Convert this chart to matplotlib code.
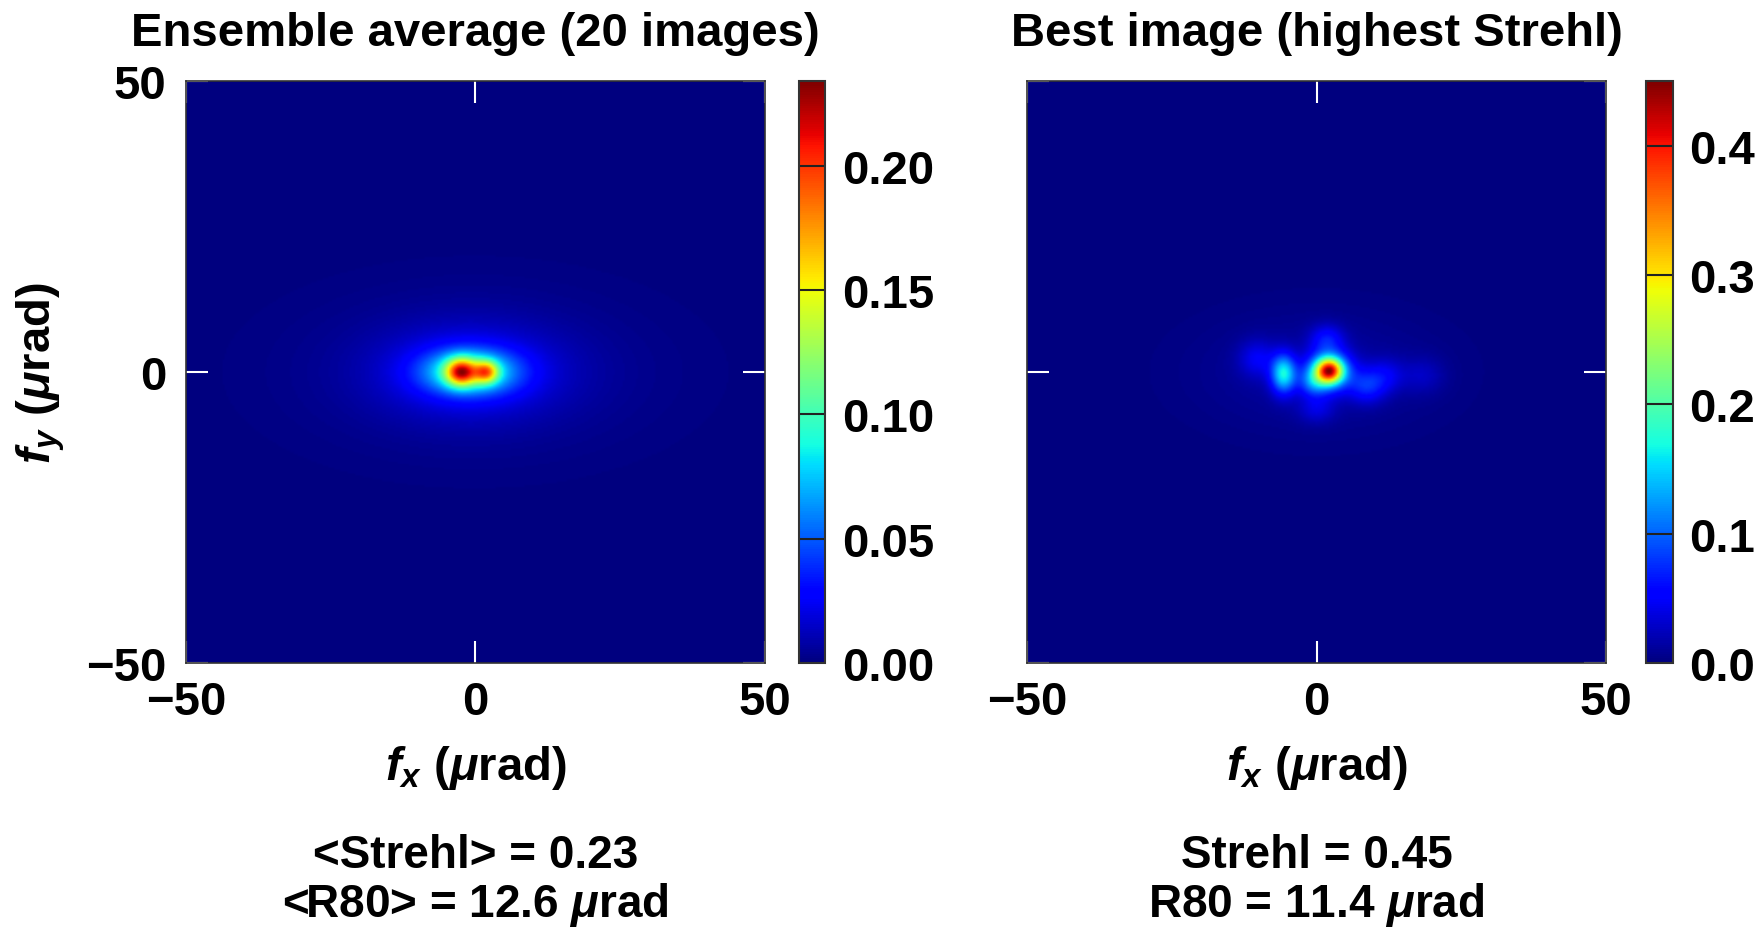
import numpy as np
import matplotlib
matplotlib.use("Agg")
import matplotlib.pyplot as plt

plt.rcParams['font.family'] = ['Liberation Sans', 'DejaVu Sans']
plt.rcParams['font.weight'] = 'bold'
plt.rcParams['axes.labelweight'] = 'bold'
plt.rcParams['axes.titleweight'] = 'bold'
plt.rcParams['mathtext.fontset'] = 'custom'
plt.rcParams['mathtext.rm'] = 'Liberation Sans:bold'
plt.rcParams['mathtext.it'] = 'Liberation Sans:italic:bold'
plt.rcParams['mathtext.bf'] = 'Liberation Sans:bold'

# spot parameters (urad), relative amplitudes
avg_x = [-2.5, 1.9, -1.0, -1.0, 0.0]
avg_y = [0.0, 0.0, 0.0, 0.0, 0.0]
avg_amp = [0.55, 0.42, 0.38, 0.11, 0.03]
avg_sx = [1.8, 1.4, 5.5, 11.0, 22.0]
avg_sy = [1.6, 1.3, 2.6, 5.5, 10.0]
avg_strehl = 0.234

best_x = [2.2, 2.2, -5.7, 1.8, 8.7, -0.6, -10.3, 12.0, 18.4, 0.0, 0.0]
best_y = [0.2, 0.2, -0.3, 5.7, -2.4, -1.8, 2.3, -0.6, -0.6, -6.4, 0.0]
best_amp = [0.6, 0.4, 0.36, 0.12, 0.14, 0.16, 0.09, 0.08, 0.05, 0.07, 0.035]
best_sx = [1.5, 2.6, 1.5, 2.0, 2.2, 1.7, 2.2, 2.2, 2.6, 2.2, 14.0]
best_sy = [1.4, 2.3, 2.3, 1.7, 2.0, 1.7, 2.2, 2.0, 2.2, 1.7, 7.0]
best_strehl = 0.45

ticks = [-50, 0, 50]
avg_cticks = [0.0, 0.05, 0.10, 0.15, 0.20]
best_cticks = [0.0, 0.1, 0.2, 0.3, 0.4]

n = 301
g = np.linspace(-50, 50, n)
X, Y = np.meshgrid(g, g)


def build(xs, ys, amps, sxs, sys_, peak):
    img = np.zeros_like(X)
    for x0, y0, a, sx, sy in zip(xs, ys, amps, sxs, sys_):
        img += a * np.exp(-((X - x0) ** 2 / (2 * sx ** 2) + (Y - y0) ** 2 / (2 * sy ** 2)))
    return img / img.max() * peak


avg_img = build(avg_x, avg_y, avg_amp, avg_sx, avg_sy, avg_strehl)
best_img = build(best_x, best_y, best_amp, best_sx, best_sy, best_strehl)

fig = plt.figure(figsize=(17.65, 9.28), dpi=100)
fs = 34

panels = [
    (avg_img, 0.1054, 0.4527, avg_strehl, avg_cticks, '%.2f',
     'Ensemble average (20 images)',
     ['<Strehl> = 0.23', r'<R80> = 12.6 $\mu$rad'], True),
    (best_img, 0.5819, 0.9326, best_strehl, best_cticks, '%.1f',
     'Best image (highest Strehl)',
     ['Strehl = 0.45', r'R80 = 11.4 $\mu$rad'], False),
]

for img, x0, cx0, vmax, cticks, cfmt, title, notes, ylab in panels:
    ax = fig.add_axes([x0, 0.2845, 0.328, 0.627])
    im = ax.imshow(img, cmap='jet', origin='lower', extent=[-50, 50, -50, 50],
                   vmin=0, vmax=vmax, interpolation='bilinear', aspect='auto')
    ax.set_xticks(ticks)
    ax.set_yticks(ticks)
    ax.set_xticklabels(['\u221250', '0', '50'])
    ax.set_yticklabels(['\u221250', '0', '50'] if ylab else [])
    ax.tick_params(direction='in', length=16, width=1.5, color='white',
                   top=True, right=True, labelsize=fs)
    ax.tick_params(axis='x', pad=12)
    ax.tick_params(axis='y', pad=14)
    for s in ax.spines.values():
        s.set_linewidth(1.2)
        s.set_color('#333333')
    ax.set_title(title, fontsize=fs, fontweight='bold', pad=26)
    ax.set_xlabel(r'$f_x$ ($\mu$rad)', fontsize=fs, fontweight='bold', labelpad=14)
    if ylab:
        ax.set_ylabel(r'$f_y$ ($\mu$rad)', fontsize=fs, fontweight='bold', labelpad=14)
    ax.text(0.5, -0.33, notes[0], transform=ax.transAxes, ha='center',
            va='center', fontsize=33, fontweight='bold')
    ax.text(0.5, -0.414, notes[1], transform=ax.transAxes, ha='center',
            va='center', fontsize=33, fontweight='bold')

    cax = fig.add_axes([cx0, 0.2845, 0.015, 0.627])
    cb = fig.colorbar(im, cax=cax)
    cb.set_ticks(cticks)
    cb.ax.set_yticklabels([cfmt % v for v in cticks])
    cb.ax.tick_params(length=0, labelsize=fs, pad=12)
    for v in cticks[1:]:
        cb.ax.axhline(v, color='#222222', lw=1.5)
    cb.outline.set_linewidth(1.5)
    cb.outline.set_edgecolor('#333333')

fig.savefig('out.png', dpi=100)
